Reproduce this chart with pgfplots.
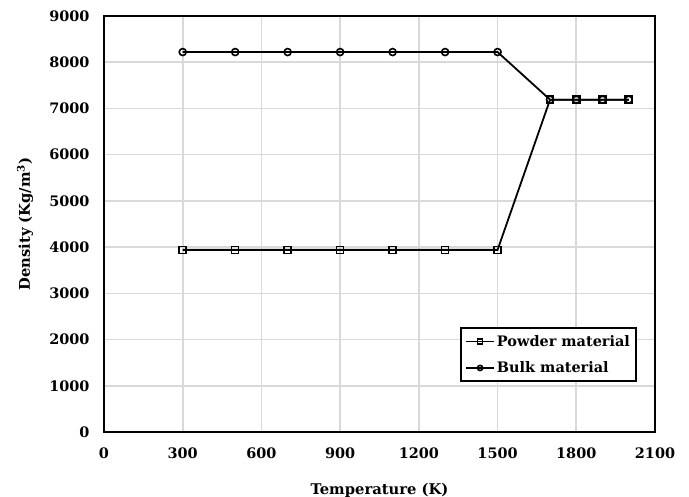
\documentclass[border=0pt]{standalone}
\usepackage{fontspec}
\setmainfont{DejaVu Serif}
\usepackage{pgfplots}
\pgfplotsset{compat=1.18}
\begin{document}
\begin{tikzpicture}[x=1bp,y=1bp]
\useasboundingbox (-104bp,-65bp) rectangle (585bp,432bp);
\begin{axis}[
  at={(0,0)}, anchor=south west,
  scale only axis,
  width=551bp, height=416bp,
  xmin=0, xmax=2100, ymin=0, ymax=9000,
  xtick={0,300,...,2100}, ytick={0,1000,...,9000},
  grid=major,
  major grid style={draw=black!15, line width=1.6bp},
  axis line style={line width=1.8bp},
  tick style={draw=none},
  /pgf/number format/assume math mode=true,
  /pgf/number format/set thousands separator={},
  tick label style={font=\fontsize{14.5}{16}\selectfont\bfseries},
  yticklabel style={xshift=-11bp},
  xticklabel style={yshift=-12bp},
  label style={font=\fontsize{14.8}{16}\selectfont\bfseries},
  xlabel={Temperature (K)},
  ylabel={Density (Kg/m\textsuperscript{3})},
  xlabel style={at={(axis description cs:0.5,-0.1394)}, anchor=center},
  ylabel style={at={(axis description cs:-0.1434,0.5)}, anchor=center},
  legend style={at={(rel axis cs:0.967,0.12)}, anchor=south east,
    draw=black, line width=1.8bp, font=\fontsize{14.5}{16}\selectfont\bfseries,
    row sep=10bp, inner xsep=4bp, inner ysep=5bp},
  legend cell align=left,
  legend image code/.code={
    \draw[mark repeat=2,mark phase=2,#1,mark size=2.6bp] plot coordinates {(0bp,0bp) (14bp,0bp) (28bp,0bp)};},
]
\addplot[black, line width=1.8bp, mark=square, mark size=3.5bp, mark options={line width=1.6bp}]
  coordinates {(300,3940)(500,3940)(700,3940)(900,3940)(1100,3940)(1300,3940)(1500,3940)(1700,7190)(1800,7190)(1900,7190)(2000,7190)};
\addlegendentry{Powder material}
\addplot[black, line width=1.8bp, mark=o, mark size=3.5bp, mark options={line width=1.6bp}]
  coordinates {(300,8220)(500,8220)(700,8220)(900,8220)(1100,8220)(1300,8220)(1500,8220)(1700,7190)(1800,7190)(1900,7190)(2000,7190)};
\addlegendentry{Bulk material}
\end{axis}
\end{tikzpicture}
\end{document}
